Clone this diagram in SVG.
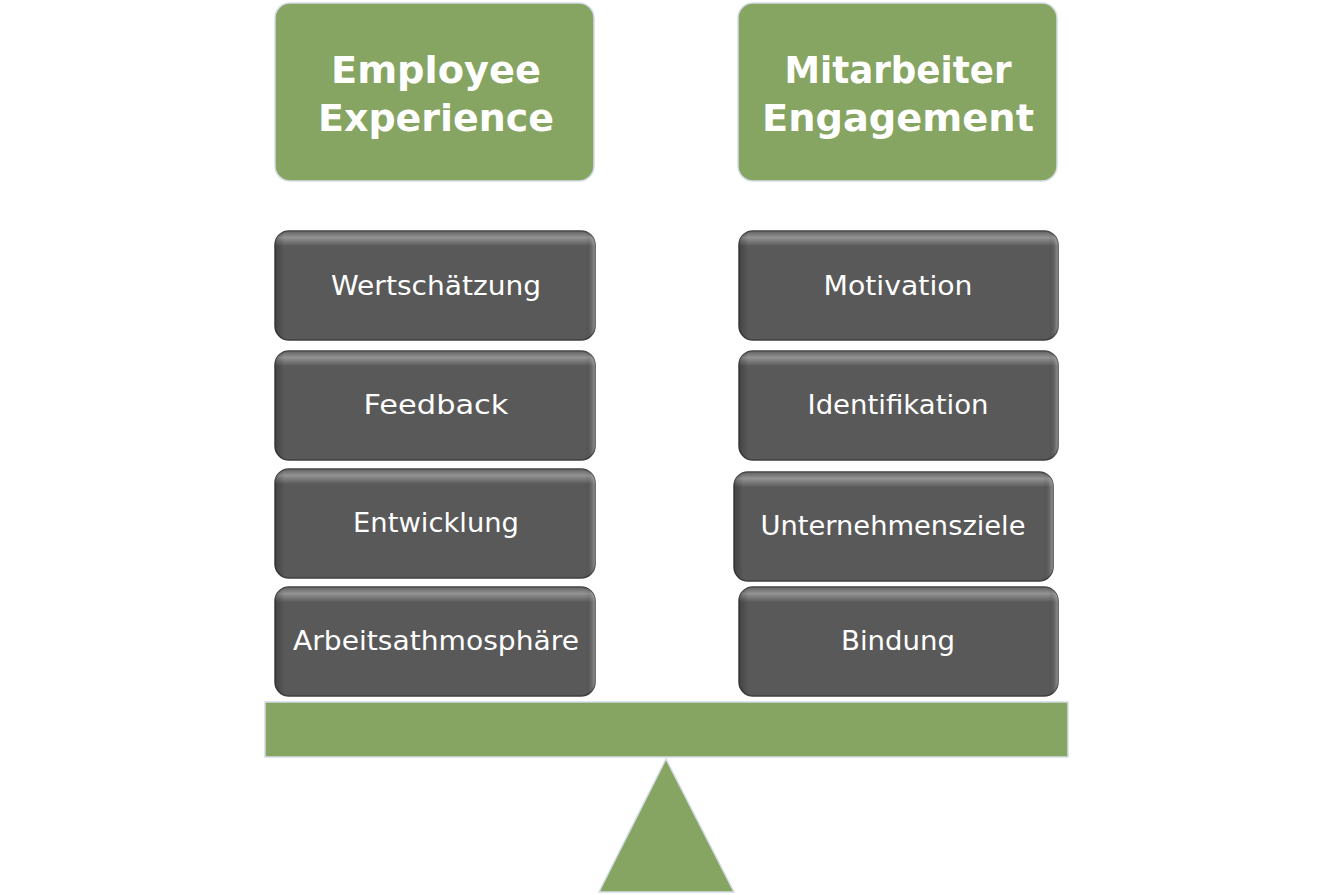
<svg xmlns="http://www.w3.org/2000/svg" width="1334" height="895" viewBox="0 0 1334 895">
<defs>
<linearGradient id="gloss" x1="0" y1="0" x2="0" y2="1">
<stop offset="0" stop-color="#ffffff" stop-opacity="0.05"/>
<stop offset="0.06" stop-color="#ffffff" stop-opacity="0.35"/>
<stop offset="0.14" stop-color="#ffffff" stop-opacity="0.0"/>
<stop offset="1" stop-color="#ffffff" stop-opacity="0"/>
</linearGradient>
<linearGradient id="side" x1="0" y1="0" x2="1" y2="0">
<stop offset="0" stop-color="#000" stop-opacity="0.25"/>
<stop offset="0.03" stop-color="#000" stop-opacity="0"/>
<stop offset="0.97" stop-color="#000" stop-opacity="0"/>
<stop offset="1" stop-color="#ffffff" stop-opacity="0.35"/>
</linearGradient>
</defs>
<style>
.hdr{fill:#86A462;stroke:#D5DCE6;stroke-width:1.5}
.box{fill:#595959;stroke:#3f3f3f;stroke-width:1.5}
.gl{fill:url(#gloss)}
.sd{fill:url(#side)}
.ht{font-family:"DejaVu Sans",sans-serif;font-weight:bold;font-size:38px;fill:#ffffff;text-anchor:middle}
.bt{font-family:"DejaVu Sans",sans-serif;font-size:26px;fill:#ffffff;text-anchor:middle}
.base{fill:#86A462;stroke:#D5DCE6;stroke-width:1.5}
</style>
<rect width="1334" height="895" fill="#ffffff"/>
<g id="h1"><rect class="hdr" x="275" y="3" width="319" height="178" rx="15"/>
<text class="ht" x="436" y="83" textLength="210" lengthAdjust="spacingAndGlyphs">Employee</text>
<text class="ht" x="436" y="131" textLength="236" lengthAdjust="spacingAndGlyphs">Experience</text></g>
<g id="h2"><rect class="hdr" x="738" y="3" width="319" height="178" rx="15"/>
<text class="ht" x="898" y="83" textLength="227" lengthAdjust="spacingAndGlyphs">Mitarbeiter</text>
<text class="ht" x="898" y="131" textLength="272" lengthAdjust="spacingAndGlyphs">Engagement</text></g>
<g id="n1"><rect class="box" x="275" y="231" width="320" height="109" rx="14"/><rect class="gl" x="275" y="231" width="320" height="109" rx="14"/><rect class="sd" x="275" y="231" width="320" height="109" rx="14"/>
<text class="bt" x="436" y="295" textLength="210" lengthAdjust="spacingAndGlyphs">Wertschätzung</text></g>
<g id="n2"><rect class="box" x="275" y="351" width="320" height="109" rx="14"/><rect class="gl" x="275" y="351" width="320" height="109" rx="14"/><rect class="sd" x="275" y="351" width="320" height="109" rx="14"/>
<text class="bt" x="436" y="414" textLength="145" lengthAdjust="spacingAndGlyphs">Feedback</text></g>
<g id="n3"><rect class="box" x="275" y="469" width="320" height="109" rx="14"/><rect class="gl" x="275" y="469" width="320" height="109" rx="14"/><rect class="sd" x="275" y="469" width="320" height="109" rx="14"/>
<text class="bt" x="436" y="532" textLength="166" lengthAdjust="spacingAndGlyphs">Entwicklung</text></g>
<g id="n4"><rect class="box" x="275" y="587" width="320" height="109" rx="14"/><rect class="gl" x="275" y="587" width="320" height="109" rx="14"/><rect class="sd" x="275" y="587" width="320" height="109" rx="14"/>
<text class="bt" x="436" y="650" textLength="286" lengthAdjust="spacingAndGlyphs">Arbeitsathmosphäre</text></g>
<g id="n5"><rect class="box" x="739" y="231" width="319" height="109" rx="14"/><rect class="gl" x="739" y="231" width="319" height="109" rx="14"/><rect class="sd" x="739" y="231" width="319" height="109" rx="14"/>
<text class="bt" x="898" y="295" textLength="149" lengthAdjust="spacingAndGlyphs">Motivation</text></g>
<g id="n6"><rect class="box" x="739" y="351" width="319" height="109" rx="14"/><rect class="gl" x="739" y="351" width="319" height="109" rx="14"/><rect class="sd" x="739" y="351" width="319" height="109" rx="14"/>
<text class="bt" x="898" y="414" textLength="181" lengthAdjust="spacingAndGlyphs">Identifikation</text></g>
<g id="n7"><rect class="box" x="734" y="472" width="319" height="109" rx="14"/><rect class="gl" x="734" y="472" width="319" height="109" rx="14"/><rect class="sd" x="734" y="472" width="319" height="109" rx="14"/>
<text class="bt" x="893" y="535" textLength="265" lengthAdjust="spacingAndGlyphs">Unternehmensziele</text></g>
<g id="n8"><rect class="box" x="739" y="587" width="319" height="109" rx="14"/><rect class="gl" x="739" y="587" width="319" height="109" rx="14"/><rect class="sd" x="739" y="587" width="319" height="109" rx="14"/>
<text class="bt" x="898" y="650" textLength="114" lengthAdjust="spacingAndGlyphs">Bindung</text></g>
<g id="beam"><rect class="base" x="265" y="702" width="803" height="55"/></g>
<g id="fulcrum"><polygon class="base" points="666,759 734,892 599,892"/></g>
<g id="connectors"></g>
</svg>
